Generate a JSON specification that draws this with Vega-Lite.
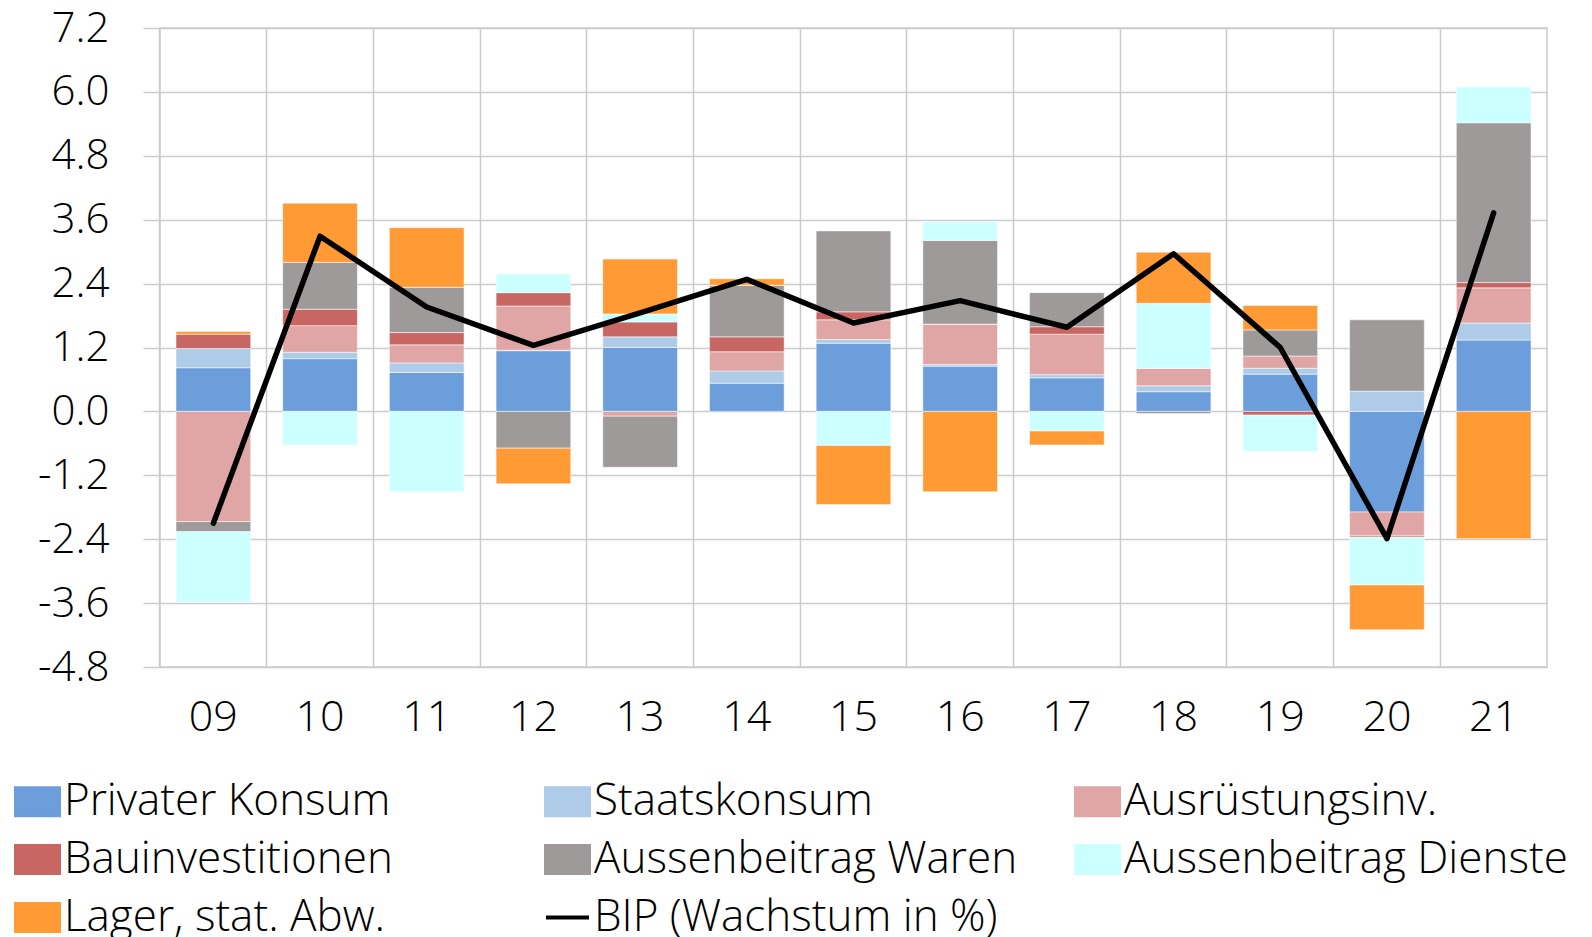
{
  "$schema": "https://vega.github.io/schema/vega-lite/v6.json",
  "width": 1387,
  "height": 639,
  "autosize": "none",
  "padding": {"left": 160, "top": 28, "right": 45, "bottom": 270},
  "background": "white",
  "config": {
    "view": {"stroke": "#cccccc", "strokeWidth": 1.5},
    "font": "Open Sans"
  },
  "datasets": {
    "bars": [
      {"year": "09", "series": "Privater Konsum", "value": 0.82},
      {"year": "09", "series": "Staatskonsum", "value": 0.36},
      {"year": "09", "series": "Ausrüstungsinv.", "value": -2.07},
      {"year": "09", "series": "Bauinvestitionen", "value": 0.27},
      {"year": "09", "series": "Aussenbeitrag Waren", "value": -0.19},
      {"year": "09", "series": "Aussenbeitrag Dienste", "value": -1.32},
      {"year": "09", "series": "Lager, stat. Abw.", "value": 0.05},
      {"year": "10", "series": "Privater Konsum", "value": 0.99},
      {"year": "10", "series": "Staatskonsum", "value": 0.12},
      {"year": "10", "series": "Ausrüstungsinv.", "value": 0.50},
      {"year": "10", "series": "Bauinvestitionen", "value": 0.31},
      {"year": "10", "series": "Aussenbeitrag Waren", "value": 0.88},
      {"year": "10", "series": "Aussenbeitrag Dienste", "value": -0.63},
      {"year": "10", "series": "Lager, stat. Abw.", "value": 1.11},
      {"year": "11", "series": "Privater Konsum", "value": 0.73},
      {"year": "11", "series": "Staatskonsum", "value": 0.18},
      {"year": "11", "series": "Ausrüstungsinv.", "value": 0.34},
      {"year": "11", "series": "Bauinvestitionen", "value": 0.23},
      {"year": "11", "series": "Aussenbeitrag Waren", "value": 0.85},
      {"year": "11", "series": "Aussenbeitrag Dienste", "value": -1.51},
      {"year": "11", "series": "Lager, stat. Abw.", "value": 1.12},
      {"year": "12", "series": "Privater Konsum", "value": 1.14},
      {"year": "12", "series": "Staatskonsum", "value": 0.01},
      {"year": "12", "series": "Ausrüstungsinv.", "value": 0.83},
      {"year": "12", "series": "Bauinvestitionen", "value": 0.25},
      {"year": "12", "series": "Aussenbeitrag Waren", "value": -0.69},
      {"year": "12", "series": "Aussenbeitrag Dienste", "value": 0.35},
      {"year": "12", "series": "Lager, stat. Abw.", "value": -0.67},
      {"year": "13", "series": "Privater Konsum", "value": 1.20},
      {"year": "13", "series": "Staatskonsum", "value": 0.20},
      {"year": "13", "series": "Ausrüstungsinv.", "value": -0.09},
      {"year": "13", "series": "Bauinvestitionen", "value": 0.28},
      {"year": "13", "series": "Aussenbeitrag Waren", "value": -0.96},
      {"year": "13", "series": "Aussenbeitrag Dienste", "value": 0.15},
      {"year": "13", "series": "Lager, stat. Abw.", "value": 1.03},
      {"year": "14", "series": "Privater Konsum", "value": 0.53},
      {"year": "14", "series": "Staatskonsum", "value": 0.23},
      {"year": "14", "series": "Ausrüstungsinv.", "value": 0.36},
      {"year": "14", "series": "Bauinvestitionen", "value": 0.28},
      {"year": "14", "series": "Aussenbeitrag Waren", "value": 0.97},
      {"year": "14", "series": "Aussenbeitrag Dienste", "value": 0.0},
      {"year": "14", "series": "Lager, stat. Abw.", "value": 0.12},
      {"year": "15", "series": "Privater Konsum", "value": 1.28},
      {"year": "15", "series": "Staatskonsum", "value": 0.07},
      {"year": "15", "series": "Ausrüstungsinv.", "value": 0.37},
      {"year": "15", "series": "Bauinvestitionen", "value": 0.15},
      {"year": "15", "series": "Aussenbeitrag Waren", "value": 1.52},
      {"year": "15", "series": "Aussenbeitrag Dienste", "value": -0.64},
      {"year": "15", "series": "Lager, stat. Abw.", "value": -1.11},
      {"year": "16", "series": "Privater Konsum", "value": 0.85},
      {"year": "16", "series": "Staatskonsum", "value": 0.03},
      {"year": "16", "series": "Ausrüstungsinv.", "value": 0.76},
      {"year": "16", "series": "Bauinvestitionen", "value": 0.0},
      {"year": "16", "series": "Aussenbeitrag Waren", "value": 1.57},
      {"year": "16", "series": "Aussenbeitrag Dienste", "value": 0.35},
      {"year": "16", "series": "Lager, stat. Abw.", "value": -1.51},
      {"year": "17", "series": "Privater Konsum", "value": 0.63},
      {"year": "17", "series": "Staatskonsum", "value": 0.06},
      {"year": "17", "series": "Ausrüstungsinv.", "value": 0.76},
      {"year": "17", "series": "Bauinvestitionen", "value": 0.14},
      {"year": "17", "series": "Aussenbeitrag Waren", "value": 0.64},
      {"year": "17", "series": "Aussenbeitrag Dienste", "value": -0.37},
      {"year": "17", "series": "Lager, stat. Abw.", "value": -0.26},
      {"year": "18", "series": "Privater Konsum", "value": 0.37},
      {"year": "18", "series": "Staatskonsum", "value": 0.11},
      {"year": "18", "series": "Ausrüstungsinv.", "value": 0.33},
      {"year": "18", "series": "Bauinvestitionen", "value": 0.0},
      {"year": "18", "series": "Aussenbeitrag Waren", "value": -0.04},
      {"year": "18", "series": "Aussenbeitrag Dienste", "value": 1.22},
      {"year": "18", "series": "Lager, stat. Abw.", "value": 0.96},
      {"year": "19", "series": "Privater Konsum", "value": 0.70},
      {"year": "19", "series": "Staatskonsum", "value": 0.11},
      {"year": "19", "series": "Ausrüstungsinv.", "value": 0.23},
      {"year": "19", "series": "Bauinvestitionen", "value": -0.07},
      {"year": "19", "series": "Aussenbeitrag Waren", "value": 0.49},
      {"year": "19", "series": "Aussenbeitrag Dienste", "value": -0.68},
      {"year": "19", "series": "Lager, stat. Abw.", "value": 0.46},
      {"year": "20", "series": "Privater Konsum", "value": -1.89},
      {"year": "20", "series": "Staatskonsum", "value": 0.38},
      {"year": "20", "series": "Ausrüstungsinv.", "value": -0.44},
      {"year": "20", "series": "Bauinvestitionen", "value": -0.03},
      {"year": "20", "series": "Aussenbeitrag Waren", "value": 1.34},
      {"year": "20", "series": "Aussenbeitrag Dienste", "value": -0.90},
      {"year": "20", "series": "Lager, stat. Abw.", "value": -0.84},
      {"year": "21", "series": "Privater Konsum", "value": 1.34},
      {"year": "21", "series": "Staatskonsum", "value": 0.32},
      {"year": "21", "series": "Ausrüstungsinv.", "value": 0.66},
      {"year": "21", "series": "Bauinvestitionen", "value": 0.10},
      {"year": "21", "series": "Aussenbeitrag Waren", "value": 3.00},
      {"year": "21", "series": "Aussenbeitrag Dienste", "value": 0.67},
      {"year": "21", "series": "Lager, stat. Abw.", "value": -2.39}
    ],
    "bip": [
      {"year": "09", "series": "BIP (Wachstum in %)", "value": -2.1},
      {"year": "10", "series": "BIP (Wachstum in %)", "value": 3.29},
      {"year": "11", "series": "BIP (Wachstum in %)", "value": 1.96},
      {"year": "12", "series": "BIP (Wachstum in %)", "value": 1.24},
      {"year": "13", "series": "BIP (Wachstum in %)", "value": 1.85},
      {"year": "14", "series": "BIP (Wachstum in %)", "value": 2.48},
      {"year": "15", "series": "BIP (Wachstum in %)", "value": 1.66},
      {"year": "16", "series": "BIP (Wachstum in %)", "value": 2.08},
      {"year": "17", "series": "BIP (Wachstum in %)", "value": 1.58},
      {"year": "18", "series": "BIP (Wachstum in %)", "value": 2.96},
      {"year": "19", "series": "BIP (Wachstum in %)", "value": 1.2},
      {"year": "20", "series": "BIP (Wachstum in %)", "value": -2.39},
      {"year": "21", "series": "BIP (Wachstum in %)", "value": 3.73}
    ]
  },
  "encoding": {
    "x": {
      "field": "year",
      "type": "nominal",
      "scale": {"paddingInner": 0.3, "paddingOuter": 0.15},
      "axis": {
        "title": null,
        "labelAngle": 0,
        "labelFontSize": 43,
        "labelFontWeight": 300,
        "labelColor": "black",
        "labelPadding": 29,
        "ticks": false,
        "domain": false,
        "grid": true,
        "gridColor": "#cccccc",
        "gridWidth": 1.5,
        "bandPosition": -0.2143
      }
    },
    "y": {
      "field": "value",
      "type": "quantitative",
      "scale": {"domain": [-4.8, 7.2], "nice": false, "zero": false},
      "axis": {
        "title": null,
        "values": [-4.8, -3.6, -2.4, -1.2, 0, 1.2, 2.4, 3.6, 4.8, 6.0, 7.2],
        "format": ".1f",
        "labelExpr": "replace(datum.label, '\u2212', '-')",
        "labelFontSize": 42,
        "labelFontWeight": 300,
        "labelColor": "black",
        "labelPadding": 34,
        "tickSize": 17,
        "tickColor": "#cccccc",
        "tickWidth": 1.5,
        "domain": false,
        "grid": true,
        "gridColor": "#cccccc",
        "gridWidth": 1.5
      }
    },
    "color": {
      "field": "series",
      "type": "nominal",
      "sort": ["Privater Konsum", "Staatskonsum", "Ausrüstungsinv.", "Bauinvestitionen", "Aussenbeitrag Waren", "Aussenbeitrag Dienste", "Lager, stat. Abw.", "BIP (Wachstum in %)"],
      "scale": {
        "domain": ["Privater Konsum", "Staatskonsum", "Ausrüstungsinv.", "Bauinvestitionen", "Aussenbeitrag Waren", "Aussenbeitrag Dienste", "Lager, stat. Abw.", "BIP (Wachstum in %)"],
        "range": ["#6b9edb", "#aecbe8", "#e0a6a6", "#c86664", "#9e9a99", "#ccffff", "#ff9a35", "#000000"]
      },
      "legend": {
        "title": null,
        "orient": "none",
        "legendX": -146,
        "legendY": 750,
        "direction": "horizontal",
        "columns": 3,
        "gridAlign": "all",
        "columnPadding": 30,
        "rowPadding": 12,
        "padding": 0,
        "labelFontSize": 44,
        "labelFontWeight": 300,
        "labelColor": "black",
        "labelOffset": 3,
        "labelLimit": 0,
        "symbolSize": 1849,
        "symbolStrokeWidth": 0,
        "encode": {
          "symbols": {
            "update": {
              "shape": {"signal": "datum.value === 'BIP (Wachstum in %)' ? 'M-1,0H1' : 'M-1,-0.63H1V0.63H-1Z'"},
              "fill": {"signal": "datum.value === 'BIP (Wachstum in %)' ? 'transparent' : scale('color', datum.value)"},
              "stroke": {"signal": "datum.value === 'BIP (Wachstum in %)' ? 'black' : 'transparent'"},
              "strokeWidth": {"value": 4},
              "opacity": {"value": 1},
              "fillOpacity": {"value": 1}
            }
          }
        }
      }
    }
  },
  "layer": [
    {
      "data": {"name": "bars"},
      "transform": [
        {"calculate": "indexof(['Privater Konsum', 'Staatskonsum', 'Ausrüstungsinv.', 'Bauinvestitionen', 'Aussenbeitrag Waren', 'Aussenbeitrag Dienste', 'Lager, stat. Abw.'], datum.series)", "as": "stackOrder"}
      ],
      "mark": {"type": "bar", "stroke": "white", "strokeWidth": 1, "strokeOpacity": 0.5},
      "encoding": {
        "y": {"field": "value", "type": "quantitative", "stack": "zero"},
        "order": {"field": "stackOrder", "type": "quantitative", "sort": "ascending"}
      }
    },
    {
      "data": {"name": "bip"},
      "mark": {"type": "line", "strokeWidth": 5.5, "strokeJoin": "round", "strokeCap": "round"},
      "encoding": {}
    }
  ]
}
